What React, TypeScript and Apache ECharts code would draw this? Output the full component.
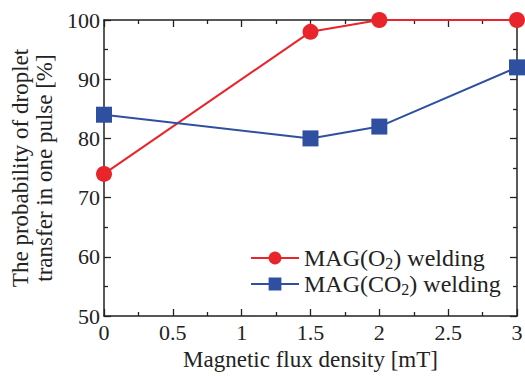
import React, { useEffect, useRef } from "react";
import * as echarts from "echarts";

const xValues = [0, 1.5, 2, 3];
const o2Values = [74, 98, 100, 100];
const co2Values = [84, 80, 82, 92];
const o2Name = "MAG(O2) welding";
const co2Name = "MAG(CO2) welding";

const FONT = "'Liberation Serif', 'Times New Roman', serif";

export default function App() {
  const ref = useRef<HTMLDivElement>(null);
  useEffect(() => {
    if (!ref.current) return;
    const chart = echarts.init(ref.current, undefined, { renderer: "svg" });
    const axisCommon = {
      axisLine: { show: true, onZero: false, lineStyle: { color: "#222", width: 1.5 } },
      axisTick: { show: true, inside: true, length: 7, lineStyle: { color: "#222", width: 1.3 } },
      minorTick: { show: true, splitNumber: 2, length: 4, lineStyle: { color: "#222", width: 1.3 } },
      splitLine: { show: false },
    };
    chart.setOption({
      animation: false,
      backgroundColor: "#fff",
      textStyle: { fontFamily: FONT },
      grid: { left: 104, right: 8, top: 20, bottom: 60, containLabel: false, outerBoundsMode: "none" },
      xAxis: [
        {
          type: "value", min: 0, max: 3, interval: 0.5,
          ...axisCommon,
          name: "Magnetic flux density [mT]",
          nameLocation: "middle", nameGap: 28,
          nameTextStyle: { fontFamily: FONT, fontSize: 23, color: "#222" },
          axisLabel: { fontFamily: FONT, fontSize: 22, color: "#222", margin: 5 },
        },
        {
          type: "value", min: 0, max: 3, interval: 0.5, position: "top",
          ...axisCommon, axisLabel: { show: false },
        },
      ],
      yAxis: [
        {
          type: "value", min: 50, max: 100, interval: 10,
          ...axisCommon,
          name: "The probability of droplet\ntransfer in one pulse [%]",
          nameLocation: "middle", nameGap: 39,
          nameTextStyle: { fontFamily: FONT, fontSize: 23, color: "#222", lineHeight: 24 },
          axisLabel: { fontFamily: FONT, fontSize: 22, color: "#222", margin: 4 },
        },
        {
          type: "value", min: 50, max: 100, interval: 10, position: "right",
          ...axisCommon, axisLabel: { show: false },
        },
      ],
      legend: {
        left: 245, top: 241,
        orient: "vertical",
        itemWidth: 48, itemHeight: 16, itemGap: 1,
        textStyle: {
          fontFamily: FONT, fontSize: 24, color: "#222", padding: [0, 0, 0, 0],
          rich: {
            s: { fontFamily: FONT, fontSize: 16, color: "#222", padding: [10, 0, 0, 0] },
          },
        },
        formatter: (name: string) =>
          name === o2Name ? "MAG(O{s|2}) welding" : "MAG(CO{s|2}) welding",
        data: [o2Name, co2Name],
      },
      series: [
        {
          name: o2Name, type: "line",
          data: xValues.map((x, i) => [x, o2Values[i]]),
          symbol: "circle", symbolSize: 16,
          itemStyle: { color: "#e8252b" },
          lineStyle: { color: "#e8252b", width: 2 },
          clip: false,
        },
        {
          name: co2Name, type: "line",
          data: xValues.map((x, i) => [x, co2Values[i]]),
          symbol: "rect", symbolSize: 16,
          itemStyle: { color: "#2f50a0" },
          lineStyle: { color: "#2f50a0", width: 2 },
          clip: false,
        },
      ],
    });
    return () => chart.dispose();
  }, []);
  return <div ref={ref} style={{ width: 525, height: 376, position: "absolute", left: 0, top: 0 }} />;
}
